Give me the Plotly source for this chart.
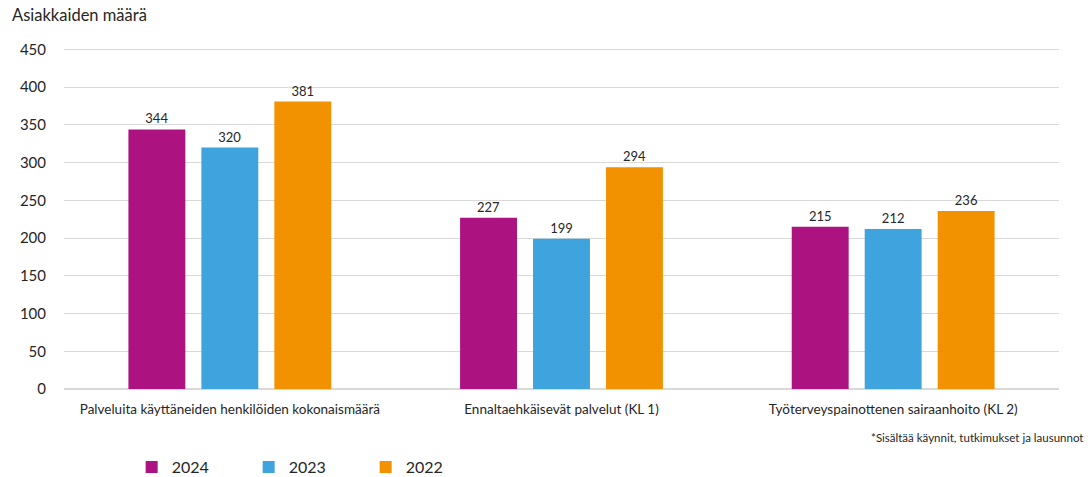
import plotly.graph_objects as go

categories = [
    "Palveluita käyttäneiden henkilöiden kokonaismäärä",
    "Ennaltaehkäisevät palvelut (KL 1)",
    "Työterveyspainottenen sairaanhoito (KL 2)",
]
years = ["2024", "2023", "2022"]
values_2024 = [344, 227, 215]
values_2023 = [320, 199, 212]
values_2022 = [381, 294, 236]
colors = ["#AD1380", "#3FA3DD", "#F39200"]
y_ticks = [0, 50, 100, 150, 200, 250, 300, 350, 400, 450]

font_family = "Lato, 'Noto Sans', sans-serif"
text_color = "#262626"

fig = go.Figure()
for year, vals, col in zip(years, [values_2024, values_2023, values_2022], colors):
    fig.add_trace(go.Bar(
        x=categories, y=vals, name=year,
        marker=dict(color=col, line=dict(width=0)),
        text=[str(v) for v in vals], textposition="outside",
        textfont=dict(size=13, color=text_color, family=font_family),
        cliponaxis=False,
    ))

fig.update_layout(
    width=1088, height=477,
    margin=dict(l=64, r=29, t=48, b=88, autoexpand=False),
    paper_bgcolor="white", plot_bgcolor="white",
    barmode="group", bargap=0.34, bargroupgap=0.22,
    font=dict(family=font_family, size=12, color=text_color),
    showlegend=True,
    legend=dict(
        orientation="h", x=0.068, xanchor="left", yref="container", y=0.021,
        yanchor="middle",
        font=dict(size=16, color=text_color), entrywidth=72, entrywidthmode="pixels",
        itemwidth=30, traceorder="normal",
    ),
    xaxis=dict(
        tickfont=dict(size=13.5, color=text_color), showgrid=False,
        showline=True, linecolor="#d9d9d9", ticks="", ticklen=0,
        ticklabelstandoff=8,
    ),
    yaxis=dict(
        range=[0, 452], tickvals=y_ticks, showgrid=True, gridcolor="#d9d9d9",
        zeroline=True, zerolinecolor="#d9d9d9", tickfont=dict(size=15, color=text_color),
        ticks="outside", ticklen=14, tickcolor="white",
    ),
    annotations=[
        dict(text="Asiakkaiden määrä", xref="paper", yref="paper", x=-0.054, y=1.097,
             xanchor="left", yanchor="middle", showarrow=False,
             font=dict(size=16.5, color=text_color)),
        dict(text="*Sisältää käynnit, tutkimukset ja lausunnot", xref="paper", yref="paper",
             x=1.026, y=-0.141, xanchor="right", yanchor="middle", showarrow=False,
             font=dict(size=11.5, color=text_color)),
    ],
)

fig.write_html("out.html")
